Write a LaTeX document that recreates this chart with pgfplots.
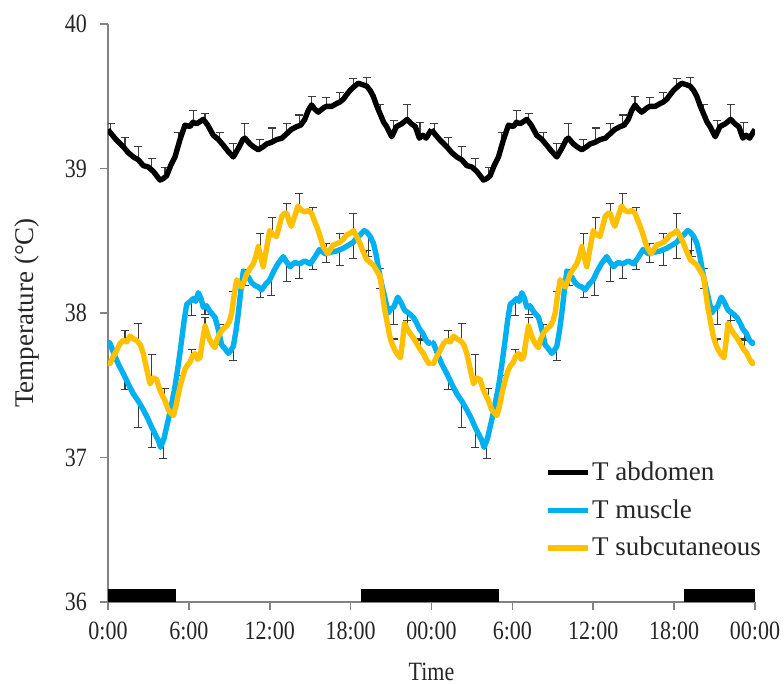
\documentclass[border=0pt]{standalone}
\usepackage{pgfplots}
\pgfplotsset{compat=1.18}
\usepackage{pgfplotstable}
\usepackage{graphicx}
\usepackage{fontspec}
\setmainfont{Liberation Serif}
\definecolor{muscle}{RGB}{0,176,240}
\definecolor{subcut}{RGB}{255,192,0}
\definecolor{errcol}{RGB}{60,60,60}
\definecolor{axcol}{RGB}{130,130,130}
\newcommand{\fs}{\fontsize{11}{13}\selectfont}
\newcommand{\fl}{\fontsize{13.5}{16}\selectfont}
\newcommand{\vs}[1]{\scalebox{1}[1.2]{#1}}

% one 24 h profile, plotted twice (double plot)
\pgfplotstableread{
t T
0 39.27
0.15 39.25
0.6 39.20
1.14 39.15
1.5 39.11
1.88 39.08
2.25 39.06
2.62 39.02
3.0 39.01
3.36 38.98
3.86 38.92
4.1 38.93
4.35 38.95
4.65 39.02
4.97 39.08
5.34 39.20
5.71 39.30
6.08 39.29
6.3 39.32
6.58 39.31
7.07 39.34
7.4 39.30
7.81 39.23
8.2 39.20
8.56 39.16
8.9 39.12
9.30 39.08
9.67 39.14
10.0 39.20
10.16 39.21
10.53 39.17
10.8 39.15
11.15 39.13
11.5 39.15
11.77 39.17
12.1 39.18
12.51 39.20
12.9 39.21
13.25 39.24
13.6 39.27
14.0 39.29
14.3 39.30
14.6 39.34
14.85 39.40
15.1 39.44
15.35 39.41
15.6 39.39
16.0 39.42
16.2 39.43
16.6 39.43
16.97 39.45
17.2 39.46
17.46 39.48
17.7 39.51
17.95 39.54
18.3 39.57
18.57 39.59
18.9 39.58
19.19 39.57
19.45 39.54
19.68 39.50
19.95 39.43
20.18 39.38
20.45 39.32
20.67 39.29
21.05 39.22
21.25 39.26
21.4 39.29
21.8 39.31
22.2 39.34
22.5 39.31
22.8 39.29
23.1 39.21
23.35 39.23
23.6 39.21
23.8 39.24
24.0 39.27
}\abd

\pgfplotstableread{
t T
0 37.80
0.15 37.79
0.52 37.70
0.8 37.64
1.14 37.58
1.5 37.51
1.88 37.44
2.25 37.39
2.62 37.33
2.9 37.28
3.24 37.21
3.5 37.16
3.73 37.12
3.9 37.07
4.15 37.13
4.47 37.26
4.7 37.36
4.97 37.49
5.2 37.63
5.46 37.81
5.65 37.95
5.84 38.06
6.1 38.08
6.33 38.10
6.5 38.08
6.70 38.14
6.9 38.10
7.07 38.04
7.3 38.05
7.57 38.01
7.94 37.97
8.2 37.88
8.43 37.78
8.7 37.75
8.93 37.72
9.1 37.74
9.30 37.77
9.5 37.88
9.67 38.00
9.85 38.15
10.04 38.29
10.2 38.25
10.41 38.25
10.65 38.21
10.9 38.19
11.15 38.18
11.4 38.16
11.7 38.20
12.0 38.23
12.3 38.29
12.6 38.34
13.0 38.39
13.2 38.36
13.5 38.32
13.85 38.35
14.2 38.34
14.6 38.36
15.0 38.34
15.3 38.38
15.7 38.44
16.1 38.41
16.5 38.42
17.0 38.43
17.5 38.45
17.85 38.47
18.2 38.49
18.45 38.52
18.7 38.54
19.0 38.57
19.2 38.56
19.45 38.53
19.7 38.48
19.9 38.40
20.05 38.32
20.25 38.22
20.4 38.16
20.6 38.08
20.8 38.00
21.0 38.03
21.2 38.04
21.5 38.11
21.75 38.07
22.0 38.02
22.3 38.00
22.65 37.97
22.9 37.93
23.1 37.89
23.35 37.86
23.6 37.81
23.8 37.79
24.0 37.80
}\mus

\pgfplotstableread{
t T
0 37.66
0.15 37.65
0.4 37.70
0.64 37.74
0.9 37.79
1.14 37.81
1.4 37.80
1.63 37.84
1.9 37.82
2.13 37.81
2.4 37.78
2.62 37.72
2.85 37.62
3.12 37.51
3.35 37.55
3.61 37.54
3.8 37.48
3.98 37.44
4.2 37.40
4.47 37.33
4.65 37.31
4.85 37.29
5.05 37.36
5.22 37.44
5.45 37.53
5.71 37.61
5.9 37.64
6.08 37.66
6.25 37.70
6.45 37.72
6.65 37.68
6.82 37.69
7.0 37.80
7.2 37.91
7.4 37.85
7.57 37.81
7.75 37.78
7.94 37.76
8.1 37.82
8.31 37.86
8.55 37.89
8.8 37.91
9.0 37.94
9.18 38.00
9.35 38.12
9.55 38.23
9.75 38.20
9.92 38.18
10.1 38.22
10.29 38.27
10.55 38.31
10.78 38.34
11.0 38.40
11.15 38.46
11.35 38.38
11.52 38.32
11.75 38.44
12.0 38.57
12.25 38.54
12.5 38.53
12.7 38.60
12.9 38.67
13.1 38.69
13.26 38.69
13.45 38.63
13.6 38.60
13.85 38.67
14.1 38.74
14.35 38.71
14.6 38.70
14.85 38.71
15.1 38.69
15.35 38.63
15.6 38.57
15.8 38.51
15.97 38.46
16.3 38.41
16.5 38.44
16.7 38.47
17.0 38.48
17.2 38.49
17.45 38.51
17.7 38.54
17.95 38.55
18.2 38.57
18.45 38.53
18.7 38.48
18.95 38.42
19.2 38.37
19.45 38.35
19.7 38.33
19.95 38.29
20.2 38.25
20.35 38.14
20.5 38.04
20.7 37.94
20.9 37.84
21.1 37.78
21.3 37.74
21.5 37.71
21.7 37.69
21.85 37.80
22.0 37.93
22.2 37.89
22.4 37.86
22.65 37.83
22.9 37.79
23.15 37.75
23.4 37.72
23.6 37.68
23.8 37.65
24.0 37.66
}\sub

% hourly SEM (abdomen and subcutaneous shown upward, muscle downward)
\pgfplotstableread{
t T e
0.2 39.25 0.06
1.26 39.14 0.075
2.25 39.06 0.09
3.24 38.99 0.08
4.23 38.94 0.07
5.2 39.16 0.09
6.33 39.32 0.08
7.2 39.32 0.06
8.3 39.19 0.06
9.3 39.08 0.09
10.16 39.21 0.10
11.27 39.14 0.06
12.2 39.19 0.09
13.25 39.24 0.07
14.2 39.30 0.07
15.1 39.44 0.06
16.2 39.43 0.06
17.2 39.46 0.065
18.2 39.56 0.06
19.2 39.57 0.06
20.2 39.38 0.06
21.2 39.25 0.08
22.2 39.34 0.10
23.15 39.22 0.10
}\abderr

\pgfplotstableread{
t T e
1.26 37.56 0.09
2.25 37.39 0.18
3.25 37.21 0.14
4.1 37.11 0.12
5.2 37.63 0.06
6.2 38.09 0.11
7.2 38.05 0.06
8.3 37.84 0.06
9.3 37.77 0.10
10.2 38.25 0.06
11.3 38.17 0.06
12.1 38.25 0.13
13.25 38.35 0.13
14.2 38.34 0.10
15.2 38.36 0.06
16.2 38.41 0.06
17.2 38.44 0.11
18.2 38.49 0.11
19.3 38.55 0.16
20.2 38.25 0.08
21.2 38.04 0.12
22.2 38.01 0.06
23.2 37.88 0.06
}\muserr

\pgfplotstableread{
t T e
1.26 37.81 0.07
2.25 37.80 0.13
3.24 37.53 0.18
4.2 37.40 0.08
5.2 37.43 0.06
6.2 37.69 0.06
7.2 37.91 0.06
8.3 37.86 0.06
9.3 38.09 0.06
10.2 38.24 0.06
11.3 38.40 0.15
12.2 38.55 0.11
13.25 38.69 0.07
14.2 38.73 0.10
15.2 38.67 0.06
16.2 38.42 0.06
17.2 38.49 0.06
18.2 38.57 0.12
19.2 38.37 0.06
20.2 38.25 0.06
21.2 37.76 0.06
22.2 37.89 0.06
23.2 37.75 0.06
}\suberr

\pgfplotsset{
  errplot/.style={draw=none, mark=none, forget plot,
    error bars/.cd, y dir=#1, y explicit,
    error bar style={draw=errcol, line width=0.55pt},
    error mark options={draw=errcol, rotate=90, mark size=2pt, line width=0.55pt}},
  trace/.style={#1, line width=2.7pt, line join=round, mark=none},
}

\begin{document}
\begin{tikzpicture}
\path[use as bounding box] (-54pt,-41pt) rectangle (338pt,301pt);
\begin{axis}[
  at={(0pt,0pt)}, anchor=south west,
  scale only axis, width=323.5pt, height=289pt,
  xmin=0, xmax=48, ymin=36, ymax=40,
  axis lines*=left,
  axis line style={axcol, line width=0.8pt, -},
  tick align=outside, major tick length=4pt,
  tick style={axcol, line width=0.8pt},
  xtick={0,6,...,48},
  xticklabels={\vs{0:00},\vs{6:00},\vs{12:00},\vs{18:00},\vs{00:00},\vs{6:00},\vs{12:00},\vs{18:00},\vs{00:00}},
  ytick={36,37,38,39,40},
  /pgf/number format/assume math mode=true,
  yticklabel={\vs{\pgfmathprintnumber{\tick}}},
  tick label style={font=\fs, text=black!85},
  xticklabel style={yshift=-2.5pt},
  yticklabel style={xshift=-3pt},
  xlabel={\vs{Time}}, ylabel={Temperature (°C)},
  xlabel style={font=\fs, text=black!85, at={(axis description cs:0.5,0)}, anchor=base, yshift=-39.5pt},
  ylabel style={font=\fl, text=black!85, at={(axis description cs:0,0.5)}, anchor=center, yshift=40.5pt},
  legend style={at={(0.676,0.247)}, anchor=north west, draw=none, fill=none,
    font=\fl, row sep=6pt, inner sep=0pt, cells={anchor=west},
    nodes={inner xsep=0.5pt, inner ysep=1pt, text=black!85}},
  legend image code/.code={\draw[#1] (0pt,0pt) -- (20pt,0pt);},
]
% dark phases
\addplot[fill=black, draw=none, forget plot] coordinates {(0,36) (0,36.09) (5.05,36.09) (5.05,36)} -- cycle;
\addplot[fill=black, draw=none, forget plot] coordinates {(18.8,36) (18.8,36.09) (29.0,36.09) (29.0,36)} -- cycle;
\addplot[fill=black, draw=none, forget plot] coordinates {(42.75,36) (42.75,36.09) (48,36.09) (48,36)} -- cycle;

% error bars (under the traces)
\addplot[errplot=plus] table[x=t, y=T, y error=e] {\abderr};
\addplot[errplot=plus] table[x expr=\thisrow{t}+24, y=T, y error=e] {\abderr};
\addplot[errplot=minus] table[x=t, y=T, y error=e] {\muserr};
\addplot[errplot=minus] table[x expr=\thisrow{t}+24, y=T, y error=e] {\muserr};
\addplot[errplot=plus] table[x=t, y=T, y error=e] {\suberr};
\addplot[errplot=plus] table[x expr=\thisrow{t}+24, y=T, y error=e] {\suberr};

\addplot[trace=black] table[x=t, y=T] {\abd};
\addlegendentry{T abdomen}
\addplot[trace=black, forget plot] table[x expr=\thisrow{t}+24, y=T] {\abd};
\addplot[trace=muscle] table[x=t, y=T] {\mus};
\addlegendentry{T muscle}
\addplot[trace=muscle, forget plot] table[x expr=\thisrow{t}+24, y=T] {\mus};
\addplot[trace=subcut] table[x=t, y=T] {\sub};
\addlegendentry{T subcutaneous}
\addplot[trace=subcut, forget plot] table[x expr=\thisrow{t}+24, y=T] {\sub};
\end{axis}
\end{tikzpicture}
\end{document}
